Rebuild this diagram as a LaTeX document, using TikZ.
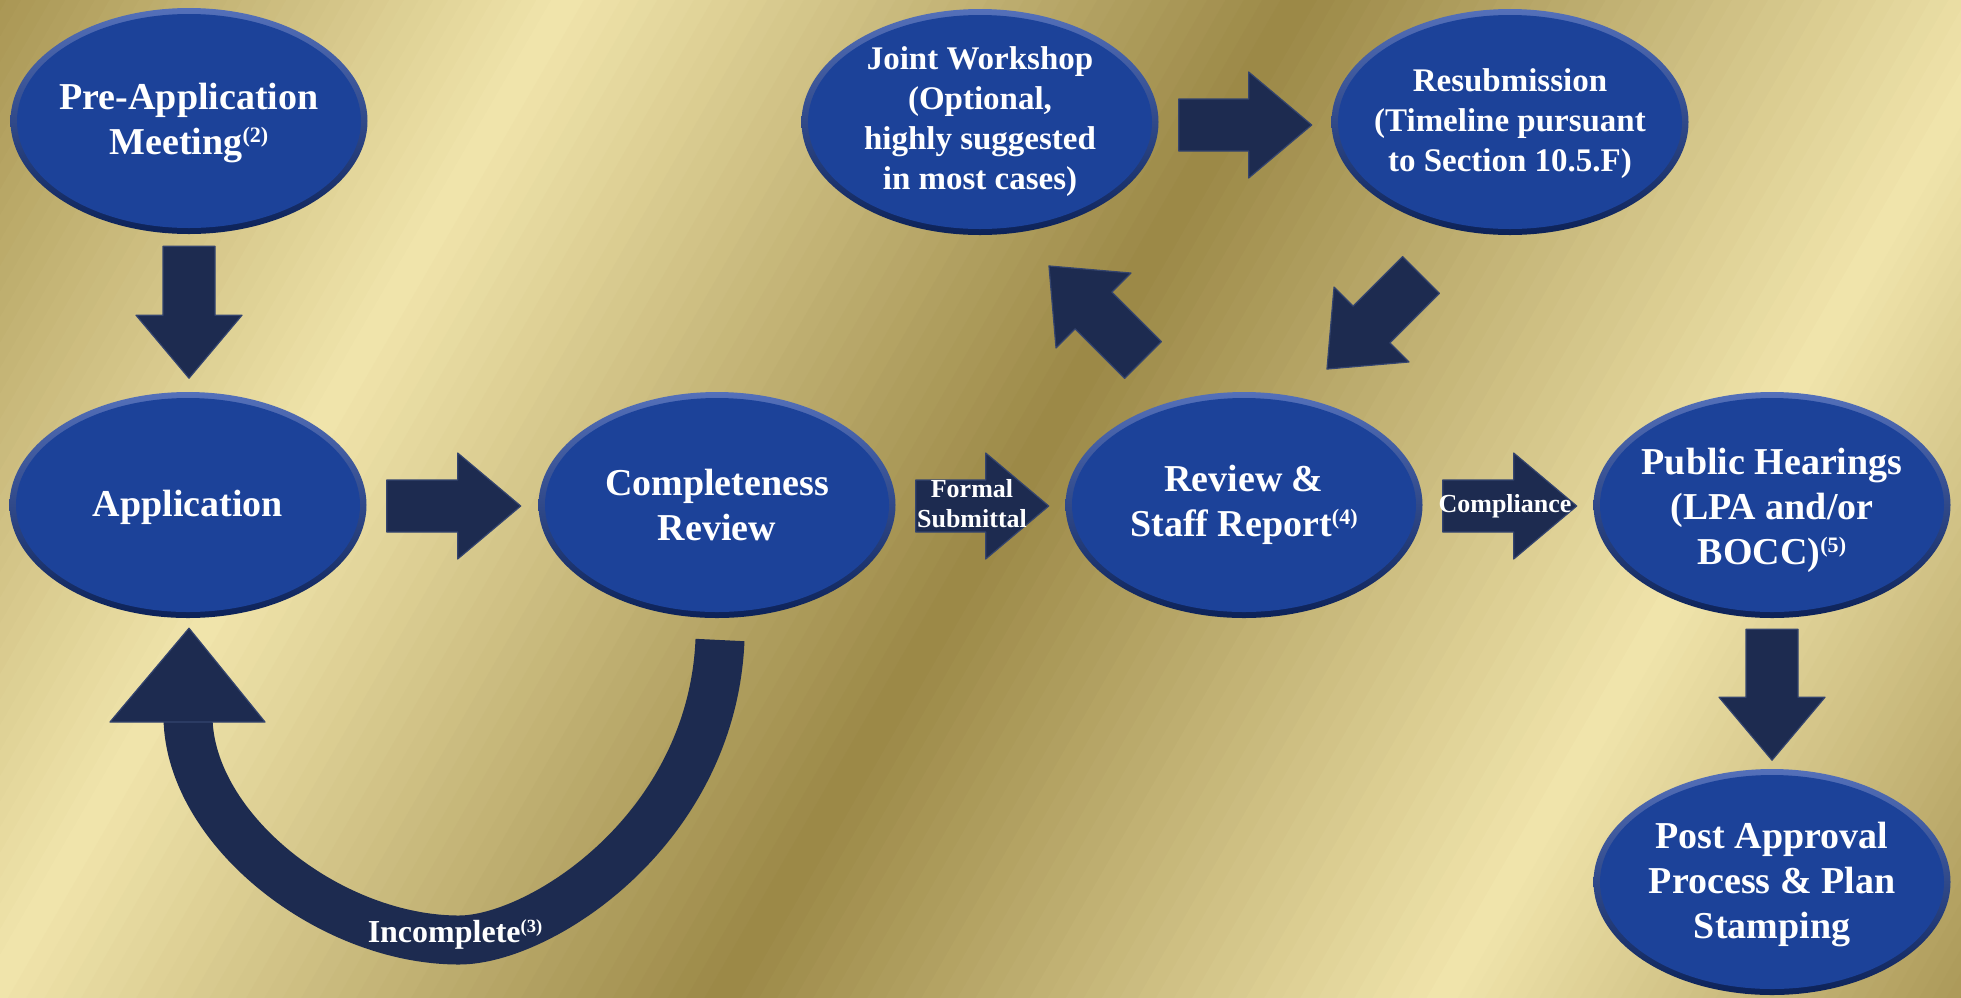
\documentclass[tikz,border=0pt]{standalone}
\usepackage{fontspec}
\setmainfont{Liberation Serif}
\usetikzlibrary{shapes.geometric,calc}
\definecolor{gStart}{RGB}{166,147,80}
\definecolor{gLight}{RGB}{241,229,172}
\definecolor{gDark}{RGB}{155,136,70}
\definecolor{gEnd}{RGB}{168,149,84}
\definecolor{nodeblue}{RGB}{28,66,153}
\definecolor{rimtop}{RGB}{84,112,186}
\definecolor{rimbot}{RGB}{12,34,88}
\definecolor{navy}{RGB}{29,43,80}
\definecolor{navyedge}{RGB}{52,68,110}
\newcommand\supr[1]{\raisebox{0.31em}{\scalebox{0.58}{(#1)}}}
\newcommand\blockarrow[3]{%
  \begin{scope}[shift={#1},rotate=#2]
    \filldraw[arrowfill] (0,-26) -- ({#3-63},-26) -- ({#3-63},-53) -- (#3,0) -- ({#3-63},53) -- ({#3-63},26) -- (0,26) -- cycle;
  \end{scope}}
\tikzset{
  stage/.style={ellipse, minimum width=357pt, minimum height=226pt, inner sep=0pt,
    top color=rimtop, bottom color=rimbot,
    path picture={\fill[nodeblue] (path picture bounding box.center) ellipse [x radius=172pt, y radius=107pt];}},
  stagetxt/.style={text=white, align=center, font=\bfseries\fontsize{38}{45}\selectfont},
  smalltxt/.style={text=white, align=center, font=\bfseries\fontsize{33}{40}\selectfont},
  lbl/.style={text=white, align=center, font=\bfseries\fontsize{26}{30}\selectfont},
  arrowfill/.style={fill=navy, draw=navyedge, line width=1.2pt, line join=round},
}
\begin{document}
\begin{tikzpicture}[x=1pt,y=-1pt]
\useasboundingbox (0,0) rectangle (1961,997);
% background gradient
\begin{scope}
\clip (0,0) rectangle (1961,997);
\foreach \a/\b/\ca/\cb in {-20/490/gStart/gLight, 490/1125/gLight/gDark, 1125/1750/gDark/gLight, 1750/2220/gLight/gEnd}{
  \foreach \k in {0,...,39}{
    \pgfmathsetmacro\st{(\b-\a)/40}
    \pgfmathsetmacro\pa{\a+\st*\k}
    \pgfmathsetmacro\pb{\a+\st*(\k+1)+1.5}
    \pgfmathsetmacro\pct{100-2.5*(\k+0.5)}
    \colorlet{stripe}{\ca!\pct!\cb}
    \fill[stripe] ({0.866*\pa+800},{0.5*\pa-1386}) -- ({0.866*\pb+800},{0.5*\pb-1386}) -- ({0.866*\pb-800},{0.5*\pb+1386}) -- ({0.866*\pa-800},{0.5*\pa+1386}) -- cycle;
  }
}
\end{scope}

% stages
\node[stage] (pre) at (189,121) {};
\node[stage] (app) at (188,505) {};
\node[stage] (comp) at (717,505) {};
\node[stage] (rev) at (1244,505) {};
\node[stage] (pub) at (1772,505) {};
\node[stage] (post) at (1772,882) {};
\node[stage] (work) at (980,122) {};
\node[stage] (resub) at (1510,122) {};

\node[stagetxt] (preT) at ($(pre)+(0,2)$) {Pre-Application\\Meeting\supr{2}};
\node[stagetxt] (appT) at ($(app)+(0,2)$) {Application};
\node[stagetxt] (compT) at (comp) {Completeness\\Review};
\node[stagetxt] (revT) at (rev) {Review \&\\Staff Report\supr{4}};
\node[stagetxt] (pubT) at ($(pub)+(0,5)$) {Public Hearings\\(LPA and/or\\BOCC)\supr{5}};
\node[stagetxt] (postT) at ($(post)+(0,2)$) {Post Approval\\Process \& Plan\\Stamping};
\node[smalltxt] (workT) at (work) {Joint Workshop\\(Optional,\\highly suggested\\in most cases)};
\node[smalltxt] (resubT) at ($(resub)+(0,2)$) {Resubmission\\(Timeline pursuant\\to Section 10.5.F)};

% block arrows
\blockarrow{($(pre.south)+(0,12)$)}{-90}{132}
\blockarrow{($(app.east)+(20,1)$)}{0}{134}
\blockarrow{($(comp.east)+(20,1)$)}{0}{133}
\blockarrow{($(rev.east)+(20,1)$)}{0}{134}
\blockarrow{($(work.east)+(20,3)$)}{0}{133}
\blockarrow{($(pub.south)+(0,11)$)}{-90}{131}
\blockarrow{($(rev.center)+(-101,-145)$)}{135}{133}
\blockarrow{($(resub.center)+(-89,153)$)}{225}{133}

% curved return arrow
\coordinate (cs) at ($(comp.center)+(3,135)$);
\coordinate (ce) at ($(app.center)+(0,213)$);
\coordinate (ht) at ($(app.south)+(1,10)$);
\draw[navy, line width=49pt] (cs) .. controls ($(cs)+(-8,190)$) and (540,940) .. (459,940) .. controls (330,940) and (190,830) .. (ce);
\filldraw[arrowfill] ($(ce)+(-78,4)$) -- ($(ce)+(77,4)$) -- (ht) -- cycle;

% labels
\node[lbl] (formal) at (972,504) {Formal\\Submittal};
\node[lbl, anchor=base] (compl) at (1505,512) {Compliance};
\node[text=white, font=\bfseries\fontsize{32}{36}\selectfont, anchor=base] (inc) at (455,942) {Incomplete\supr{3}};
\end{tikzpicture}
\end{document}
